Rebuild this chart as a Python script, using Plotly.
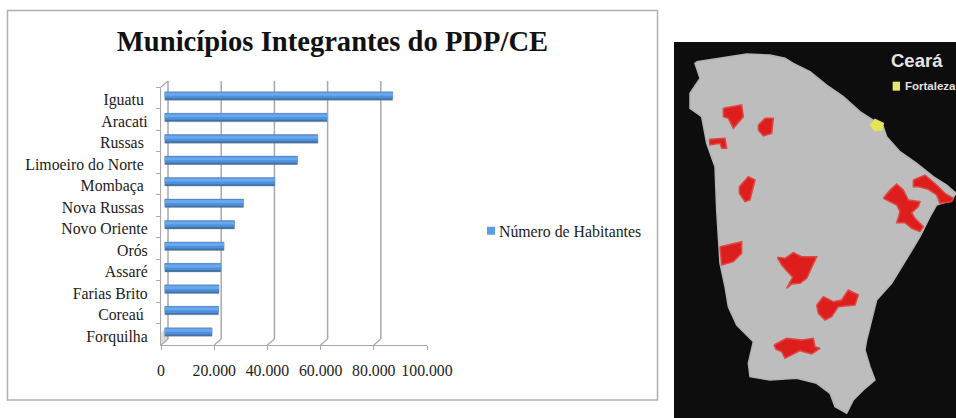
import plotly.graph_objects as go

W, H = 956, 418

# ---------- chart data ----------
categories = ["Iguatu\u00a0", "Aracati", "Russas\u00a0", "Limoeiro do Norte\u00a0", "Mombaça\u00a0",
              "Nova Russas\u00a0", "Novo Oriente", "Orós", "Assaré", "Farias Brito", "Coreaú\u00a0", "Forquilha"]
habitantes = [85800, 61100, 57700, 50000, 41500, 29700, 26300, 22400, 21200, 20500, 20300, 17900]
series_name = "Número de Habitantes"
tick_values = [0, 20000, 40000, 60000, 80000, 100000]
tick_labels = ["0", "20.000", "40.000", "60.000", "80.000", "100.000"]

# ---------- map data (map units) ----------
map_panel_x = [12, 858, 858, 12]
map_panel_y = [36, 36, 1164, 1164]
state_x = [80, 150, 230, 300, 345, 370, 420, 470, 520, 570, 610, 640, 650, 690, 740, 790, 830, 858, 845, 800, 780,
           750, 720, 690, 665, 620, 605, 590, 585, 600, 615, 580, 550, 530, 495, 480, 440, 380, 300, 240, 235, 250,
           200, 175, 165, 150, 145, 140, 135, 110, 95, 60, 60, 90, 75]
state_y = [95, 85, 72, 75, 85, 100, 125, 165, 200, 245, 270, 290, 320, 365, 400, 440, 465, 490, 510, 525, 560,
           620, 670, 720, 760, 810, 870, 930, 960, 1010, 1050, 1080, 1110, 1150, 1130, 1090, 1060, 1045, 1050, 1040,
           1000, 935, 885, 830, 770, 700, 620, 540, 410, 340, 260, 235, 190, 145, 100]
municipios_x = [
    [160, 215, 220, 190, 175, 160],
    [265, 285, 310, 305, 280, 265],
    [118, 165, 170, 155, 150, 120],
    [208, 235, 255, 240, 225, 208],
    [150, 215, 215, 190, 155],
    [322, 345, 370, 395, 440, 425, 410, 390, 365, 350, 368, 350, 335],
    [440, 460, 490, 515, 535, 565, 555, 505, 485, 465, 445],
    [312, 350, 395, 430, 435, 450, 425, 390, 345, 335, 318],
    [640, 660, 680, 700, 715, 750, 745, 725, 735, 760, 750, 725, 705, 680, 690, 680],
    [730, 765, 800, 825, 850, 845, 810, 800, 775, 745, 730],
]
municipios_y = [
    [235, 225, 260, 295, 265, 260],
    [285, 265, 265, 310, 318, 300],
    [328, 325, 355, 355, 340, 345],
    [470, 440, 450, 510, 515, 490],
    [650, 635, 670, 695, 705],
    [682, 685, 668, 680, 680, 715, 745, 760, 762, 775, 742, 722, 705],
    [825, 800, 815, 810, 780, 795, 825, 830, 860, 870, 850],
    [945, 925, 930, 925, 950, 955, 972, 962, 985, 965, 958],
    [505, 480, 462, 480, 510, 515, 530, 548, 565, 590, 605, 595, 578, 578, 545, 525],
    [450, 435, 465, 490, 505, 515, 520, 495, 478, 470, 470],
]
fortaleza_x = [600, 615, 640, 635, 615]
fortaleza_y = [285, 268, 280, 300, 302]
swatch_x = [668, 690, 690, 668]
swatch_y = [155, 155, 182, 182]


def px(v):
    return v / W


def py(v):
    return 1 - v / H


SERIF = "Liberation Serif, Cambria, serif"
TEXT = "#1c1c1c"
GRID = "#a9a9a9"
FS = 15.8
fig = go.Figure()

# Bars, built up in layers to give the bevelled look
n = len(categories)
for color, width, offset, line in [
    ("#43709f", 0.40, -0.20, dict(color="rgba(120,140,170,0.35)", width=1.0)),
    ("#4f90de", 0.30, -0.19, dict(width=0)),
    ("#6aa8ee", 0.14, -0.15, dict(width=0)),
]:
    fig.add_trace(go.Bar(x=habitantes, y=categories, orientation="h", xaxis="x2", yaxis="y2",
                         width=width, offset=offset, marker=dict(color=color, line=line),
                         showlegend=False, hoverinfo="skip"))

# Legend entry
fig.add_trace(go.Scatter(x=[None], y=[None], mode="markers", name=series_name, xaxis="x2", yaxis="y2",
                         marker=dict(symbol="square", size=8, color="#5b9ee6")))

# Carrier for the labelled axes
fig.add_trace(go.Bar(x=[0] * n, y=categories, orientation="h", xaxis="x", yaxis="y",
                     showlegend=False, hoverinfo="skip", marker=dict(color="rgba(0,0,0,0)")))

# Map
def poly(xs, ys, color, line=None):
    fig.add_trace(go.Scatter(x=xs + xs[:1], y=ys + ys[:1], mode="lines", fill="toself", fillcolor=color,
                             line=dict(color=line or color, width=1.5 if line else 0),
                             xaxis="x3", yaxis="y3", showlegend=False, hoverinfo="skip"))


poly(map_panel_x, map_panel_y, "#0e0d0d")
poly(state_x, state_y, "#bdbdbd", "#b4b4b4")
for xs, ys in zip(municipios_x, municipios_y):
    poly(xs, ys, "#dd1e1c", "#dd4a46")
poly(fortaleza_x, fortaleza_y, "#e6e654", "#dede70")
poly(swatch_x, swatch_y, "#e6e66a")

shapes = [dict(type="rect", xref="paper", yref="paper", x0=px(7.5), x1=px(657.5), y0=py(400), y1=py(10.5),
               line=dict(color="#b0b0b0", width=1.5), fillcolor="white", layer="below")]
# Left wall shading and 3D wall / floor lines derived from the axis ticks
shapes.append(dict(type="path", xref="paper", yref="paper", layer="below", line=dict(width=0), fillcolor="#d9d9d9",
                   path=f"M{px(161)},{py(345)} L{px(168)},{py(338)} L{px(168)},{py(326)} L{px(161)},{py(333)} Z"))
for t in tick_values:
    shapes.append(dict(type="line", xref="x", xsizemode="pixel", xanchor=t, x0=7, x1=7, yref="paper",
                       y0=py(339), y1=py(81), line=dict(color=GRID, width=1.5), layer="below"))
    shapes.append(dict(type="line", xref="x", xsizemode="pixel", xanchor=t, x0=7, x1=0, yref="paper",
                       y0=py(339), y1=py(345), line=dict(color=GRID, width=1.2), layer="below"))
shapes.append(dict(type="line", xref="paper", yref="paper", x0=px(161), x1=px(168), y0=py(87), y1=py(81),
                   line=dict(color=GRID, width=1.2), layer="below"))

fig.update_layout(
    width=W, height=H, autosize=False, margin=dict(l=0, r=0, t=0, b=0, autoexpand=False),
    paper_bgcolor="white", plot_bgcolor="rgba(0,0,0,0)", barmode="overlay", shapes=shapes,
    font=dict(family=SERIF, size=FS, color=TEXT),
    title=dict(text="<b>Municípios Integrantes do PDP/CE</b>", x=332.5 / W, xanchor="center", xref="paper",
               y=py(41), yanchor="middle", yref="paper", font=dict(family=SERIF, size=28.6, color="#111111"),
               automargin=False),
    legend=dict(x=px(459), y=py(231), xanchor="left", yanchor="middle", bgcolor="rgba(0,0,0,0)",
                font=dict(family=SERIF, size=FS, color=TEXT), itemclick=False, itemdoubleclick=False),
    # Labelled front axes
    xaxis=dict(domain=[px(161), px(427)], range=[0, 100000], anchor="y", tickvals=tick_values, ticktext=tick_labels,
               ticks="outside", ticklen=4, tickcolor=GRID, showline=True, linecolor=GRID, linewidth=1.2,
               showgrid=False, zeroline=False, ticklabelstandoff=7, tickfont=dict(family=SERIF, size=FS, color=TEXT)),
    yaxis=dict(domain=[py(345), py(87)], type="category", categoryorder="array", categoryarray=categories,
               autorange="reversed", anchor="x", tickson="boundaries", ticks="outside", ticklen=4, tickcolor=GRID,
               showline=True, linecolor=GRID, linewidth=1.2, showgrid=False, zeroline=False,
               ticklabelstandoff=9, ticklabelshift=-2, tickfont=dict(family=SERIF, size=FS, color=TEXT)),
    # Axes that place the bars mid-depth
    xaxis2=dict(domain=[px(164.5), px(430.5)], range=[0, 100000], anchor="y2", visible=False),
    yaxis2=dict(domain=[py(342.75), py(85.25)], type="category", categoryorder="array", categoryarray=categories,
                autorange="reversed", anchor="x2", visible=False),
    # Map axes
    xaxis3=dict(domain=[px(670), 1], range=[0, 858], anchor="y3", visible=False),
    yaxis3=dict(domain=[0, py(30)], range=[1164, 0], anchor="x3", visible=False),
    annotations=[
        dict(text="<b>Ceará</b>", xref="x3", yref="y3", x=658, y=92, xanchor="left", yanchor="middle",
             showarrow=False, font=dict(family="Liberation Sans, Arial, sans-serif", size=18.5, color="#e6e6e6")),
        dict(text="<b>Fortaleza</b>", xref="x3", yref="y3", x=700, y=168, xanchor="left", yanchor="middle",
             showarrow=False, font=dict(family="Liberation Sans, Arial, sans-serif", size=11.5, color="#e0e0e0")),
    ],
)

post = """
document.body.style.margin = '0';
document.documentElement.style.overflow = 'hidden';
document.querySelectorAll('.legendsymbols').forEach(function (e) { e.setAttribute('transform', 'translate(12,0)'); });
"""
fig.write_html("out.html", post_script=post, config=dict(displayModeBar=False))
